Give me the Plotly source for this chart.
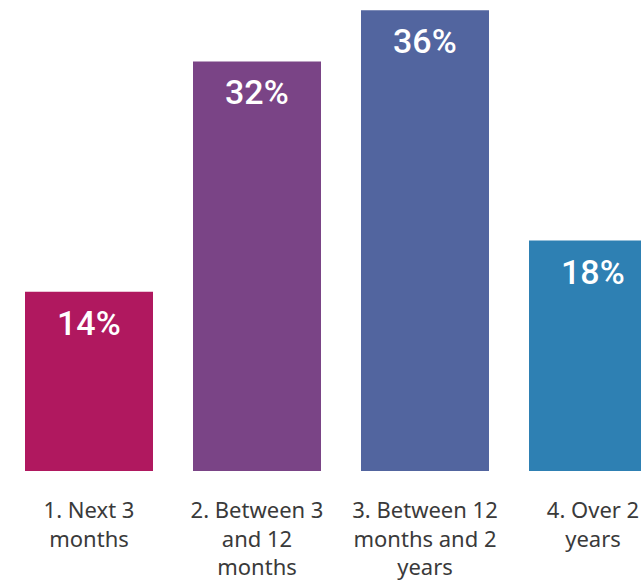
import plotly.graph_objects as go

# Survey answers: expected timing
categories = ["1. Next 3 months", "2. Between 3 and 12 months",
              "3. Between 12 months and 2 years", "4. Over 2 years"]
tick_labels = ["1. Next 3<br>months", "2. Between 3<br>and 12<br>months",
               "3. Between 12<br>months and 2<br>years", "4. Over 2<br>years"]
shares = [14, 32, 36, 18]
bar_colors = ["#B0185F", "#7A4486", "#52659F", "#2E80B3"]

fig = go.Figure()
fig.add_trace(go.Bar(
    x=categories,
    y=shares,
    marker=dict(color=bar_colors, line=dict(width=0)),
    hoverinfo="skip",
))

# Value labels sitting just inside the top of each bar
for cat, val in zip(categories, shares):
    fig.add_annotation(
        x=cat, y=val, text=f"{val}%",
        xref="x", yref="y", yanchor="top", yshift=-9,
        showarrow=False,
        font=dict(family="Roboto", size=34, color="white", weight=500),
    )

fig.update_layout(
    width=641, height=586,
    margin=dict(l=5, r=0, t=0, b=115),
    paper_bgcolor="white", plot_bgcolor="white",
    bargap=40 / 168,
    showlegend=False,
    xaxis=dict(
        range=[-0.5, 3.5 - 36 / 168],
        tickmode="array", tickvals=categories, ticktext=tick_labels,
        tickfont=dict(family="Noto Sans", size=22, color="#3a3a3a"),
        ticklabelstandoff=24,
        showline=False, showgrid=False, zeroline=False, ticks="",
        automargin=False,
    ),
    yaxis=dict(
        range=[0, 471 / 12.8],
        visible=False, showgrid=False, zeroline=False,
    ),
)

fig.write_html("out.html")
